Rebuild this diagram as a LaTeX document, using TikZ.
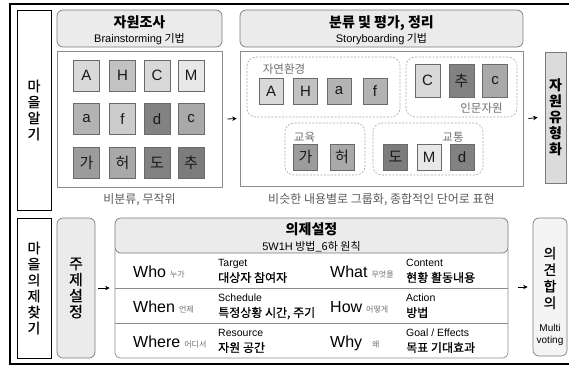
\documentclass[tikz,border=0pt]{standalone}
\usepackage{fontspec}
\setmainfont{Noto Sans CJK KR}
\newfontfamily\kmed{Noto Sans CJK KR}[FakeBold=0.6]
\newfontfamily\lat{Liberation Sans}
\usetikzlibrary{fit,arrows.meta}
\newcommand\EN[1]{{\lat #1}}
\definecolor{hdrfill}{HTML}{EBEBEB}
\definecolor{hdrdraw}{HTML}{7A7A7A}
\definecolor{pandraw}{HTML}{8C8C8C}
\definecolor{grpdraw}{HTML}{A8A8A8}
\definecolor{txtgray}{HTML}{5A5A5A}
\definecolor{lblgray}{HTML}{707070}
\definecolor{sqdraw}{HTML}{6A6A6A}
\definecolor{cA}{HTML}{D9D9D9}
\definecolor{cB}{HTML}{C2C2C2}
\definecolor{cC}{HTML}{E8E8E8}
\definecolor{cD}{HTML}{B3B3B3}
\definecolor{cE}{HTML}{CCCCCC}
\definecolor{cF}{HTML}{828282}
\definecolor{cG}{HTML}{A9A9A9}
\definecolor{cH}{HTML}{9C9C9C}
\definecolor{cI}{HTML}{7C7C7C}
\begin{document}
\begin{tikzpicture}[x=1pt,y=-1pt,
  frame/.style={draw=black,line width=1.6pt},
  lblbox/.style={draw=black,line width=0.8pt,fill=white,inner sep=0pt},
  hdr/.style={draw=hdrdraw,fill=hdrfill,rounded corners=6pt,line width=0.7pt,inner sep=0pt},
  panel/.style={draw=pandraw,fill=white,line width=0.7pt,inner sep=0pt},
  grp/.style={draw=grpdraw,dash pattern=on 2pt off 1.5pt,rounded corners=9pt,line width=0.6pt,inner sep=0pt},
  sqA/.style={draw=sqdraw,line width=0.6pt,minimum width=26pt,minimum height=31pt,inner sep=0pt,text=black!90,font=\fontsize{15}{15}\selectfont},
  sqB/.style={sqA,minimum width=24pt,minimum height=26pt,font=\fontsize{15}{15}\selectfont},
  sqC/.style={sqA,minimum width=25pt,minimum height=33pt,font=\fontsize{15}{15}\selectfont},
  vstack/.style={align=center,font=\kmed\fontsize{14}{16}\selectfont,inner sep=0pt},
  htitle/.style={anchor=base,font=\bfseries\fontsize{14}{14}\selectfont},
  hsub/.style={anchor=base,font=\fontsize{11}{11}\selectfont},
  captxt/.style={anchor=base,text=txtgray,font=\fontsize{12}{12}\selectfont},
  glbl/.style={anchor=base,text=lblgray,font=\fontsize{11.5}{11.5}\selectfont},
  bigtxt/.style={anchor=base west,inner sep=0pt,font=\fontsize{16}{16}\selectfont},
  smalltxt/.style={anchor=base west,inner sep=0pt,font=\fontsize{10.5}{10.5}\selectfont},
  kortxt/.style={anchor=base west,inner sep=0pt,font=\kmed\fontsize{12}{12}\selectfont},
  sepline/.style={draw=pandraw,line width=0.7pt},
  arr/.style={-{Stealth[length=4.5pt,width=4.5pt]},line width=0.8pt}
]
\useasboundingbox (0,0) rectangle (569,368);
\draw[frame] (10,4) rectangle (585,364);

% left labels
\node[lblbox,fit={(17,10) (51,210)}] (lb1) {};
\node[vstack] at (lb1.center) {마\\을\\알\\기};
\node[lblbox,fit={(17,218) (51,358)}] (lb2) {};
\node[vstack] at (lb2.center) {마\\을\\의\\제\\찾\\기};

% panel 1
\node[hdr,fit={(57,10) (222,47)}] (h1) {};
\node[htitle] at (139.5,27) {자원조사};
\node[hsub] at (139.5,42) {\EN{Brainstorming} 기법};
\node[panel,fit={(57,51) (222,187)}] (p1) {};
\node[sqA,fill=cA] (a1) at (86.5,75.5) {\EN{A}};
\node[sqA,fill=cB] (a2) at (122.5,75.5) {\EN{H}};
\node[sqA,fill=cA] (a3) at (157,75.5) {\EN{C}};
\node[sqA,fill=cC] (a4) at (191,75.5) {\EN{M}};
\node[sqA,fill=cD] (b1) at (86.5,119) {\EN{a}};
\node[sqA,fill=cE] (b2) at (122.5,119) {\EN{f}};
\node[sqA,fill=cF] (b3) at (157,119) {\EN{d}};
\node[sqA,fill=cG] (b4) at (191,119) {\EN{c}};
\node[sqA,fill=cH] (c1) at (86.5,162.5) {가};
\node[sqA,fill=cG] (c2) at (122.5,162.5) {허};
\node[sqA,fill=cF] (c3) at (157,162.5) {도};
\node[sqA,fill=cI] (c4) at (191,162.5) {추};
\node[captxt] at (139.5,203) {비분류, 무작위};

% panel 2
\node[hdr,fit={(240,10) (523,47)}] (h2) {};
\node[htitle] at (381.5,27) {분류 및 평가, 정리};
\node[hsub] at (381.5,42) {\EN{Storyboarding} 기법};
\node[panel,fit={(240,51) (523,186)}] (p2) {};
\node[grp,fit={(247,57) (400,117)}] (g1) {};
\node[grp,fit={(406,57) (517,117)}] (g2) {};
\node[grp,fit={(285,123) (365,175)}] (g3) {};
\node[grp,fit={(373,123) (483,175)}] (g4) {};
\node[glbl] at (284,73) {자연환경};
\node[glbl] at (481.5,112) {인문자원};
\node[glbl] at (304.5,141) {교육};
\node[glbl] at (453,141) {교통};
\node[sqB,fill=cA] (d1) at (271,91) {\EN{A}};
\node[sqB,fill=cB] (d2) at (305.5,91) {\EN{H}};
\node[sqB,fill=cD] (d3) at (339,91) {\EN{a}};
\node[sqB,fill=cD] (d4) at (375,91) {\EN{f}};
\node[sqC,fill=cA] (e1) at (427.5,80.5) {\EN{C}};
\node[sqC,fill=cF] (e2) at (461.5,80.5) {추};
\node[sqC,fill=cG] (e3) at (495,80.5) {\EN{c}};
\node[sqB,fill=cH] (f1) at (305.5,157) {가};
\node[sqB,fill=cG] (f2) at (342,157) {허};
\node[sqB,fill=cI] (k1) at (395.5,157) {도};
\node[sqB,fill=cC] (k2) at (429,157) {\EN{M}};
\node[sqB,fill=cF] (k3) at (462,157) {\EN{d}};
\node[captxt] at (381.5,203) {비슷한 내용별로 그룹화, 종합적인 단어로 표현};

% resource typing
\node[draw=hdrdraw,fill=hdrfill!85!gray,line width=0.8pt,inner sep=0pt,fit={(545,52) (566,183)}] (t1) {};
\node[vstack,font=\bfseries\fontsize{14}{16}\selectfont] at (t1.center) {자\\원\\유\\형\\화};

\draw[arr] ([xshift=5pt]p1.east) -- ([xshift=-3pt]p2.west);
\draw[arr] ([xshift=5pt]p2.east) -- ([xshift=-7pt]t1.west);

% bottom
\node[hdr,fit={(57,218) (95,358)}] (s1) {};
\node[vstack,font=\kmed\fontsize{15}{16}\selectfont] at (s1.center) {주\\제\\설\\정};

\node[panel,rounded corners=5pt,fit={(115,245) (508,358)}] (tb) {};
\node[hdr,fit={(115,218) (508,253)}] (h3) {};
\node[htitle] at (311.5,234) {의제설정};
\node[hsub] at (311.5,250) {\EN{5W1H} 방법\_6하 원칙};
\draw[sepline] (115,288) -- (508,288);
\draw[sepline] (115,323) -- (508,323);

\node[bigtxt] at (133,277) {\EN{Who}\hspace{4pt}{\fontsize{8}{8}\selectfont\color{lblgray}누가}};
\node[smalltxt] at (218,266) {\EN{Target}};
\node[kortxt] at (218,282) {대상자 참여자};
\node[bigtxt] at (330,277) {\EN{What}\hspace{4pt}{\fontsize{8}{8}\selectfont\color{lblgray}무엇을}};
\node[smalltxt] at (406,266) {\EN{Content}};
\node[kortxt] at (406,282) {현황 활동내용};

\node[bigtxt] at (133,312) {\EN{When}\hspace{4pt}{\fontsize{8}{8}\selectfont\color{lblgray}언제}};
\node[smalltxt] at (218,301) {\EN{Schedule}};
\node[kortxt] at (218,317) {특정상황 시간, 주기};
\node[bigtxt] at (330,312) {\EN{How}\hspace{4pt}{\fontsize{8}{8}\selectfont\color{lblgray}어떻게}};
\node[smalltxt] at (406,301) {\EN{Action}};
\node[kortxt] at (406,317) {방법};

\node[bigtxt] at (133,347) {\EN{Where}\hspace{4pt}{\fontsize{8}{8}\selectfont\color{lblgray}어디서}};
\node[smalltxt] at (218,336) {\EN{Resource}};
\node[kortxt] at (218,352) {자원 공간};
\node[bigtxt] at (330,347) {\EN{Why}\hspace{10pt}{\fontsize{8}{8}\selectfont\color{lblgray}왜}};
\node[smalltxt] at (406,336) {\EN{Goal / Effects}};
\node[kortxt] at (406,352) {목표 기대효과};

\node[hdr,fill=hdrfill!55,fit={(533,218) (567,356)}] (o1) {};
\node[vstack,font=\kmed\fontsize{14}{16.5}\selectfont] at (550,278) {의\\견\\합\\의};
\node[align=center,inner sep=0pt,font=\lat\fontsize{10}{11.5}\selectfont] at (550,335) {Multi\\voting};

\draw[arr] ([xshift=3pt]s1.east) -- ([xshift=-5pt]s1.east -| tb.west);
\draw[arr] ([xshift=10pt]o1.west -| tb.east) -- ([xshift=-5pt]o1.west);
\end{tikzpicture}
\end{document}
